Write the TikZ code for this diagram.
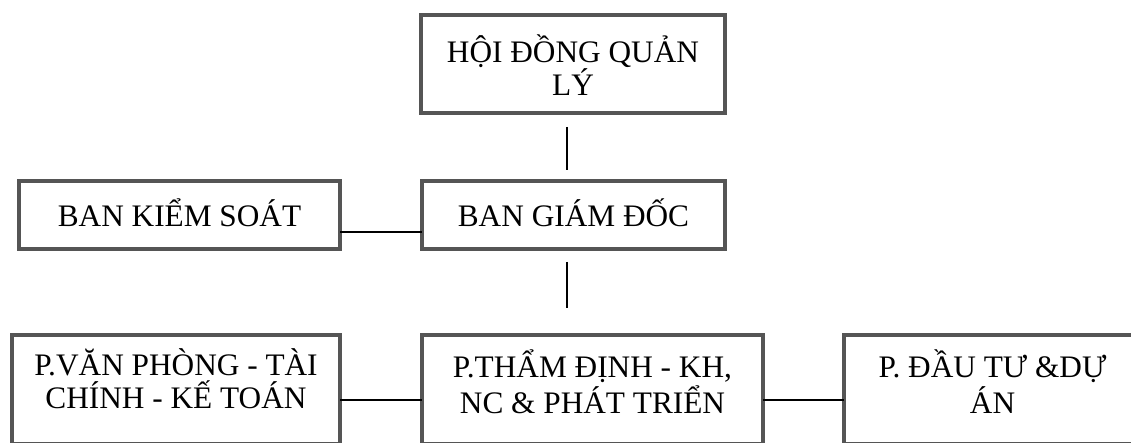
\documentclass[tikz,border=0pt]{standalone}
\usepackage{fontspec}
\setmainfont{Liberation Serif}
\usetikzlibrary{calc}
\definecolor{boxgray}{HTML}{555555}
\tikzset{
  orgbox/.style={draw=boxgray, line width=3.6pt, inner sep=0pt, outer sep=0pt,
    align=center, text=black, text depth=0pt, text height=0pt},
  conn/.style={draw=black, line width=1.5pt},
  f31/.style={font=\fontsize{31.3}{31}\selectfont},
  f33/.style={font=\fontsize{31.3}{33}\selectfont},
  f36/.style={font=\fontsize{31.3}{36}\selectfont},
}
\begin{document}
\begin{tikzpicture}[x=1pt, y=-1pt]
\clip (0,0) rectangle (1131,443);
\fill[white] (0,0) rectangle (1131,443);
% boxes
\node[orgbox, f31, minimum width=304pt, minimum height=98pt, text height=64pt] (hdql) at (573,64) {HỘI ĐỒNG QUẢN\\LÝ};
\node[orgbox, f31, minimum width=321pt, minimum height=68pt, text height=24pt] (bks) at (179.5,215) {BAN KIỂM SOÁT};
\node[orgbox, f31, minimum width=303pt, minimum height=68pt, text height=24pt] (bgd) at (573.5,215) {BAN GIÁM ĐỐC};
\node[orgbox, f33, minimum width=328pt, minimum height=109pt, text height=37pt] (pvp) at (176,389.5) {P.VĂN PHÒNG - TÀI\\CHÍNH - KẾ TOÁN};
\node[orgbox, f36, minimum width=341pt, minimum height=109pt, text height=47pt] (ptd) at (592.5,389.5) {P.THẨM ĐỊNH - KH,\\NC \& PHÁT TRIỂN};
\node[orgbox, f36, minimum width=297pt, minimum height=109pt, text height=47pt] (pdt) at (992.5,389.5) {P. ĐẦU TƯ \&DỰ\\ÁN};
% connectors
\draw[conn] ($(hdql.south)+(-6,14)$) -- ($(bgd.north)+(-6.5,-11)$);
\draw[conn] ($(bgd.south)+(-6.5,13)$) -- ($(ptd.north)+(-25.5,-27)$);
\draw[conn] ($(bks.east)+(0,17)$) -- ($(bgd.west)+(0,17)$);
\draw[conn] ($(pvp.east)+(0,10.5)$) -- ($(ptd.west)+(0,10.5)$);
\draw[conn] ($(ptd.east)+(0,10.5)$) -- ($(pdt.west)+(0,10.5)$);
\end{tikzpicture}
\end{document}
